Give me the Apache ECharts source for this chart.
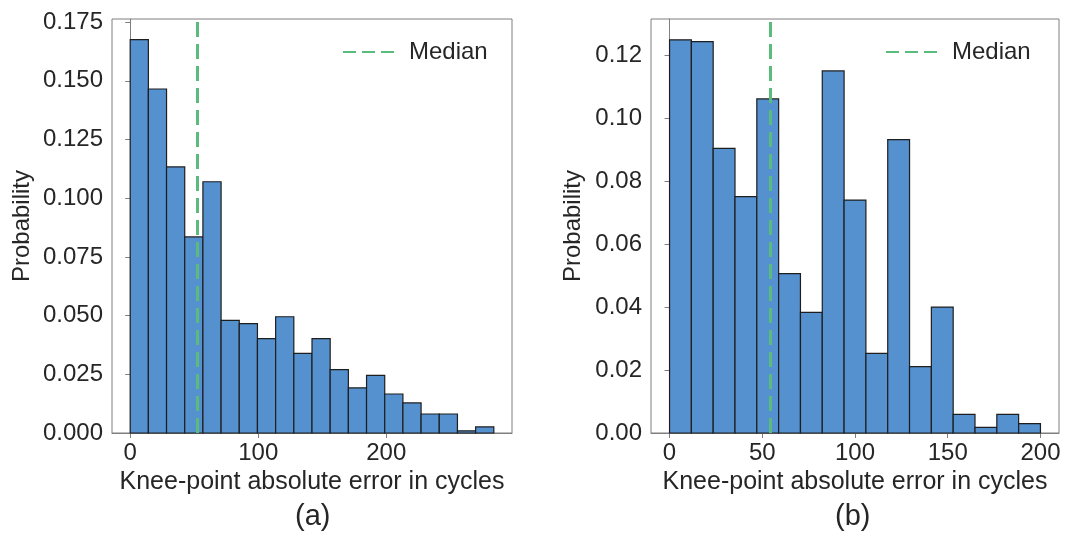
<!DOCTYPE html>
<html lang="en">

    <head>
        <meta charset="UTF-8">
        <title>Knee-point error histograms</title>
        <script src="https://cdn.jsdelivr.net/npm/echarts@6/dist/echarts.min.js"></script>
    </head>

    <body style="margin:0;background:#fff;">
        <div id="chart" style="width:1070px;height:533px;"></div>

        <script>
            // (a) 20 bins from 0 to 284 cycles
            var binStartA = 0;
            var binEndA = 284;
            var probA = [0.1675, 0.1465, 0.1133, 0.0835, 0.1070, 0.0480, 0.0466, 0.0402, 0.0495, 0.0339,
                         0.0402, 0.0270, 0.0192, 0.0245, 0.0166, 0.0128, 0.0081, 0.0081, 0.0009, 0.0026];
            var medianA = 52;
            var xTicksA = [0, 100, 200];
            var yTicksA = [0, 0.025, 0.05, 0.075, 0.1, 0.125, 0.15, 0.175];

            // (b) 17 bins from 0 to 200 cycles
            var binStartB = 0;
            var binEndB = 200;
            var probB = [0.1249, 0.1243, 0.0904, 0.0751, 0.1061, 0.0506, 0.0383, 0.1150, 0.0740, 0.0253,
                         0.0932, 0.0211, 0.0400, 0.0059, 0.0018, 0.0059, 0.0030];
            var medianB = 54.3;
            var xTicksB = [0, 50, 100, 150, 200];
            var yTicksB = [0, 0.02, 0.04, 0.06, 0.08, 0.10, 0.12];

            var FONT = 'Liberation Sans';
            var TXT = '#262626';
            var BAR = '#5590cf';
            var GREEN = '#5abb7c';

            function toBins(start, end, probs) {
                var w = (end - start) / probs.length;
                return probs.map(function (p, i) {
                    return [start + i * w, start + (i + 1) * w, p];
                });
            }

            function renderBar(params, api) {
                var p0 = api.coord([api.value(0), api.value(2)]);
                var p1 = api.coord([api.value(1), 0]);
                return {
                    type: 'rect',
                    shape: { x: p0[0], y: p0[1], width: p1[0] - p0[0], height: p1[1] - p0[1] },
                    style: { fill: BAR, stroke: '#1e1e1e', lineWidth: 1.2 }
                };
            }

            function xAxisFor(idx, min, max, ticks) {
                return {
                    type: 'value', gridIndex: idx, min: min, max: max,
                    name: 'Knee-point absolute error in cycles',
                    nameLocation: 'middle', nameGap: 29,
                    nameTextStyle: { fontFamily: FONT, fontSize: 25, color: TXT },
                    axisLine: { show: true, lineStyle: { color: '#7f7f7f', width: 1 } },
                    axisTick: { show: true, length: 5, customValues: ticks, lineStyle: { color: '#7f7f7f' } },
                    axisLabel: { customValues: ticks, margin: 8, fontFamily: FONT, fontSize: 24, color: TXT },
                    splitLine: { show: false }
                };
            }

            function yAxisFor(idx, max, ticks, digits, gap) {
                return {
                    type: 'value', gridIndex: idx, min: 0, max: max,
                    name: 'Probability',
                    nameLocation: 'middle', nameGap: gap,
                    nameTextStyle: { fontFamily: FONT, fontSize: 24, color: TXT },
                    axisLine: { show: true, lineStyle: { color: '#7f7f7f', width: 1 } },
                    axisTick: { show: true, length: 5, customValues: ticks, lineStyle: { color: '#7f7f7f' } },
                    axisLabel: {
                        customValues: ticks, margin: 9, fontFamily: FONT, fontSize: 24, color: TXT,
                        formatter: function (v) { return v.toFixed(digits); }
                    },
                    splitLine: { show: false }
                };
            }

            function medianSeries(idx, value) {
                return {
                    name: 'Median', type: 'line', xAxisIndex: idx, yAxisIndex: idx,
                    data: [], symbol: 'none', showSymbol: false,
                    lineStyle: { color: GREEN, width: 3, type: [13, 6] },
                    itemStyle: { color: GREEN },
                    markLine: {
                        silent: true, symbol: 'none', animation: false,
                        label: { show: false },
                        lineStyle: { color: GREEN, width: 3, type: [15, 7] },
                        data: [{ xAxis: value }]
                    }
                };
            }

            function legendFor(left) {
                return {
                    data: ['Median'], left: left, top: 35,
                    itemWidth: 51, itemHeight: 12, itemGap: 0,
                    itemStyle: { color: 'rgba(0,0,0,0)', borderWidth: 0, opacity: 0 },
                    textStyle: { fontFamily: FONT, fontSize: 24, color: TXT, padding: [0, 0, 0, 10] }
                };
            }

            var option = {
                animation: false,
                backgroundColor: '#fff',
                grid: [
                    { left: 112, top: 19, width: 400, height: 414, show: true, borderColor: '#7f7f7f', borderWidth: 1 },
                    { left: 651, top: 19, width: 408, height: 414, show: true, borderColor: '#7f7f7f', borderWidth: 1 }
                ],
                xAxis: [
                    xAxisFor(0, -14.2, 298.2, xTicksA),
                    xAxisFor(1, -10, 210, xTicksB)
                ],
                yAxis: [
                    yAxisFor(0, 0.1763, yTicksA, 3, 78),
                    yAxisFor(1, 0.1315, yTicksB, 2, 66)
                ],
                legend: [legendFor(337), legendFor(880)],
                graphic: [
                    { type: 'text', left: 295, top: 502, style: { text: '(a)', font: '29px "Liberation Sans"', fill: TXT } },
                    { type: 'text', left: 835, top: 502, style: { text: '(b)', font: '29px "Liberation Sans"', fill: TXT } }
                ],
                series: [
                    {
                        type: 'custom', xAxisIndex: 0, yAxisIndex: 0,
                        renderItem: renderBar, encode: { x: [0, 1], y: 2 },
                        data: toBins(binStartA, binEndA, probA)
                    },
                    {
                        type: 'custom', xAxisIndex: 1, yAxisIndex: 1,
                        renderItem: renderBar, encode: { x: [0, 1], y: 2 },
                        data: toBins(binStartB, binEndB, probB)
                    },
                    medianSeries(0, medianA),
                    medianSeries(1, medianB)
                ]
            };

            var myChart = echarts.init(document.getElementById('chart'));
            myChart.setOption(option);
        </script>
    </body>

</html>
